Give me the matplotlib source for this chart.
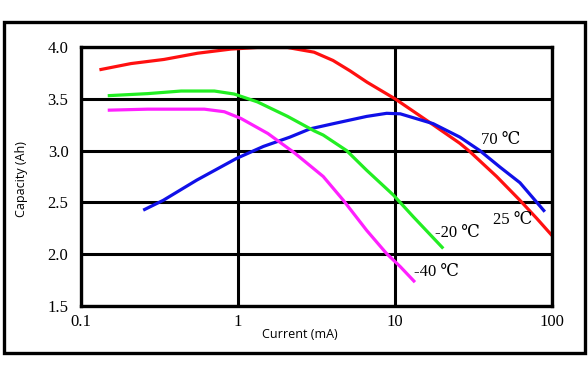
import matplotlib
matplotlib.use("Agg")
import matplotlib.pyplot as plt
from matplotlib.patches import Rectangle

# Data (current in mA, capacity in Ah)
i_25 = [0.131, 0.208, 0.338, 0.553, 0.902, 1.33, 2.07, 3.05, 4.03, 5.17, 6.64, 10, 16.7, 25.9, 30, 44.4, 62.5, 80, 100]
c_25 = [3.78, 3.84, 3.88, 3.94, 3.98, 3.995, 3.995, 3.95, 3.87, 3.77, 3.66, 3.50, 3.27, 3.07, 2.99, 2.75, 2.52, 2.345, 2.18]

i_70 = [0.249, 0.334, 0.546, 0.98, 1.45, 2.14, 2.88, 4.05, 6.6, 8.85, 10.8, 17.5, 25.9, 34.7, 46.7, 62.5, 90]
c_70 = [2.425, 2.52, 2.715, 2.925, 3.04, 3.13, 3.21, 3.26, 3.33, 3.36, 3.355, 3.26, 3.13, 3.00, 2.84, 2.69, 2.41]

i_m20 = [0.148, 0.266, 0.434, 0.707, 0.946, 1.33, 2.07, 3.06, 3.49, 4.92, 6.6, 9.78, 13.1, 20.3]
c_m20 = [3.53, 3.55, 3.575, 3.575, 3.546, 3.47, 3.33, 3.19, 3.15, 3.00, 2.81, 2.57, 2.36, 2.055]

i_m40 = [0.148, 0.266, 0.61, 0.819, 1.045, 1.55, 2.28, 3.49, 4.69, 6.6, 8.85, 10.8, 13.4]
c_m40 = [3.39, 3.40, 3.40, 3.375, 3.31, 3.165, 2.98, 2.75, 2.52, 2.23, 2.005, 1.88, 1.73]

x_ticks = [0.1, 1, 10, 100]
x_labels = ["0.1", "1", "10", "100"]
y_ticks = [1.5, 2.0, 2.5, 3.0, 3.5, 4.0]

serif = ["Liberation Serif", "DejaVu Serif"]
sans = ["Open Sans", "DejaVu Sans"]

fig = plt.figure(figsize=(5.88, 3.76), dpi=100)
fig.patches.append(Rectangle((4 / 588, 1 - 353 / 376), 581 / 588, 331 / 376,
                             transform=fig.transFigure, fill=False,
                             edgecolor="black", linewidth=2.4))

ax = fig.add_axes([81 / 588, 1 - 306 / 376, 471 / 588, 259 / 376])
ax.set_xscale("log")
ax.set_xlim(0.1, 100)
ax.set_ylim(1.5, 4.0)

lw = 2.3
ax.plot(i_25, c_25, color="#ff1010", lw=lw, solid_capstyle="butt", solid_joinstyle="round")
ax.plot(i_70, c_70, color="#1010e8", lw=lw, solid_capstyle="butt", solid_joinstyle="round")
ax.plot(i_m20, c_m20, color="#22ee22", lw=lw, solid_capstyle="butt", solid_joinstyle="round")
ax.plot(i_m40, c_m40, color="#ff20ff", lw=lw, solid_capstyle="butt", solid_joinstyle="round")

ax.set_xticks(x_ticks)
ax.set_xticklabels(x_labels)
ax.minorticks_off()
ax.set_yticks(y_ticks)
ax.set_yticklabels([f"{v:.1f}" for v in y_ticks])
ax.tick_params(length=0, labelsize=12)
ax.tick_params(axis="y", pad=9)
ax.tick_params(axis="x", pad=6)
for lab in ax.get_xticklabels() + ax.get_yticklabels():
    lab.set_family(serif)

ax.grid(True, color="black", lw=2.2)
ax.set_axisbelow(True)
for s in ax.spines.values():
    s.set_linewidth(2.4)
    s.set_color("black")

ax.set_xlabel("Current (mA)", family=sans, fontsize=9)
ax.xaxis.set_label_coords(0.465, -0.085)
ax.set_ylabel("Capacity (Ah)", family=sans, fontsize=9)
ax.yaxis.set_label_coords(-0.113, 0.49)

ax.text(35.3, 3.10, "70 ℃", family=serif, fontsize=12, va="center")
ax.text(42.1, 2.33, "25 ℃", family=serif, fontsize=12, va="center")
ax.text(18.0, 2.20, "-20 ℃", family=serif, fontsize=12, va="center")
ax.text(13.3, 1.83, "-40 ℃", family=serif, fontsize=12, va="center")

fig.savefig("out.png", dpi=100)
